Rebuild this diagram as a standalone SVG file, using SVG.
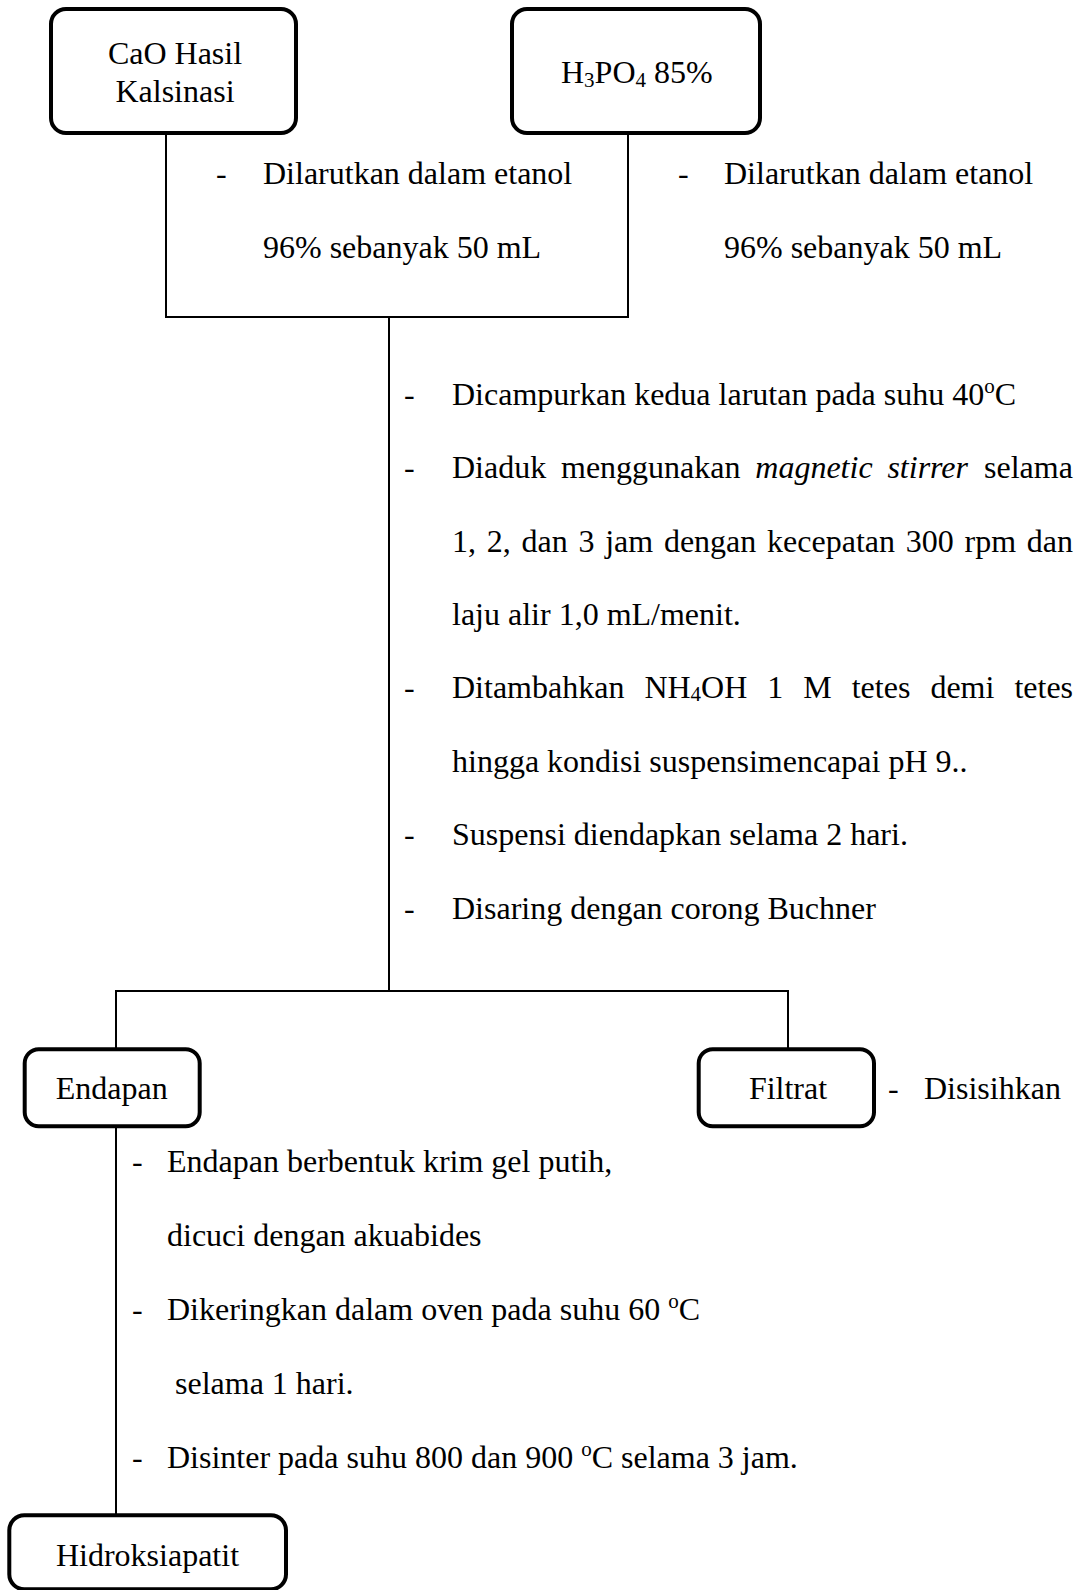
<svg xmlns="http://www.w3.org/2000/svg" width="1080" height="1590" viewBox="0 0 1080 1590">
<style>
.t{font-family:"Liberation Serif","Times New Roman",serif;font-size:32px;fill:#000}
.c{text-anchor:middle}
.i{font-style:italic}
.box{fill:#fff;stroke:#000;stroke-width:4}
.conn line{stroke:#000;stroke-width:2;fill:none}
</style>
<rect width="1080" height="1590" fill="#fff"/>
<g id="connectors" class="conn">
<line x1="166" y1="133" x2="166" y2="317"/>
<line x1="628" y1="133" x2="628" y2="317"/>
<line x1="165" y1="317" x2="629" y2="317"/>
<line x1="389" y1="317" x2="389" y2="991"/>
<line x1="115" y1="991" x2="789" y2="991"/>
<line x1="116" y1="991" x2="116" y2="1049"/>
<line x1="788" y1="991" x2="788" y2="1049"/>
<line x1="116" y1="1127" x2="116" y2="1515"/>
</g>
<g id="node-cao">
<rect class="box" x="51" y="9" width="245" height="124" rx="15"/>
<text class="t c" x="175" y="64">CaO Hasil</text>
<text class="t c" x="175" y="102">Kalsinasi</text>
</g>
<g id="node-h3po4">
<rect class="box" x="512" y="9" width="248" height="124" rx="15"/>
<text class="t" x="561" y="83">H<tspan font-size="21" dy="4">3</tspan><tspan dy="-4">PO</tspan><tspan font-size="21" dy="4">4</tspan><tspan dy="-4"> 85%</tspan></text>
</g>
<g id="steps-dissolve">
<text class="t" x="216" y="184">-</text>
<text class="t" x="263" y="184">Dilarutkan dalam etanol</text>
<text class="t" x="263" y="258">96%  sebanyak 50 mL</text>
<text class="t" x="678" y="184">-</text>
<text class="t" x="724" y="184">Dilarutkan dalam etanol</text>
<text class="t" x="724" y="258">96%  sebanyak 50 mL</text>
</g>
<g id="steps-mix">
<text class="t" x="404" y="405">-</text>
<text class="t" x="452" y="405">Dicampurkan kedua larutan pada suhu 40<tspan font-size="21" dy="-12">o</tspan><tspan dy="12">C</tspan></text>
<text class="t" x="404" y="478">-</text>
<text class="t" y="478"><tspan x="452">Diaduk</tspan><tspan x="561">menggunakan</tspan><tspan class="i" x="755.3">magnetic</tspan><tspan class="i" x="887.4">stirrer</tspan><tspan x="984">selama</tspan></text>
<text class="t" y="551.5"><tspan x="452">1,</tspan><tspan x="486.7">2,</tspan><tspan x="521.5">dan</tspan><tspan x="578.4">3</tspan><tspan x="605.2">jam</tspan><tspan x="663.9">dengan</tspan><tspan x="767.1">kecepatan</tspan><tspan x="905.7">300</tspan><tspan x="964.5">rpm</tspan><tspan x="1026.8">dan</tspan></text>
<text class="t" x="452" y="625">laju alir 1,0 mL/menit.</text>
<text class="t" x="404" y="698">-</text>
<text class="t" y="698"><tspan x="452">Ditambahkan</tspan><tspan x="644.4">NH</tspan><tspan font-size="21" dy="3">4</tspan><tspan dy="-3">OH</tspan><tspan x="767.3">1</tspan><tspan x="803.3">M</tspan><tspan x="851.7">tetes</tspan><tspan x="930.4">demi</tspan><tspan x="1014.4">tetes</tspan></text>
<text class="t" x="452" y="772">hingga kondisi suspensimencapai pH 9..</text>
<text class="t" x="404" y="845">-</text>
<text class="t" x="452" y="845">Suspensi diendapkan selama 2 hari.</text>
<text class="t" x="404" y="919">-</text>
<text class="t" x="452" y="919">Disaring dengan corong Buchner</text>
</g>
<g id="node-endapan">
<rect class="box" x="24.7" y="1049.3" width="175" height="77" rx="14"/>
<text class="t c" x="111.7" y="1099.3">Endapan</text>
</g>
<g id="node-filtrat">
<rect class="box" x="698.7" y="1049.3" width="175.3" height="77" rx="14"/>
<text class="t c" x="788" y="1099.3">Filtrat</text>
</g>
<g id="step-filtrat">
<text class="t" x="888" y="1099.3">-</text>
<text class="t" x="924" y="1099.3">Disisihkan</text>
</g>
<g id="steps-endapan">
<text class="t" x="132" y="1172">-</text>
<text class="t" x="167" y="1172">Endapan berbentuk krim gel putih,</text>
<text class="t" x="167" y="1246">dicuci dengan akuabides</text>
<text class="t" x="132" y="1320">-</text>
<text class="t" x="167" y="1320">Dikeringkan dalam oven pada suhu 60 <tspan font-size="21" dy="-12">o</tspan><tspan dy="12">C</tspan></text>
<text class="t" x="175" y="1394">selama 1 hari.</text>
<text class="t" x="132" y="1468">-</text>
<text class="t" x="167" y="1468">Disinter pada suhu 800 dan 900 <tspan font-size="21" dy="-12">o</tspan><tspan dy="12">C selama 3 jam.</tspan></text>
</g>
<g id="node-hidroksiapatit">
<rect class="box" x="9.3" y="1515.3" width="276.7" height="74" rx="15"/>
<text class="t c" x="147.5" y="1566">Hidroksiapatit</text>
</g>
</svg>
